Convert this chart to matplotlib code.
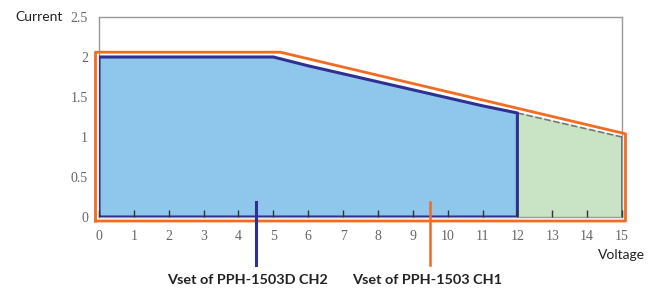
import matplotlib.pyplot as plt

# operating envelope
ch2_v = [0, 0, 5, 6, 7, 8, 9, 10, 11, 12, 12]
ch2_i = [0, 2.0, 2.0, 1.89, 1.79, 1.69, 1.59, 1.49, 1.39, 1.30, 0]
ext_v = [12, 12, 13, 14, 15, 15]
ext_i = [0, 1.30, 1.20, 1.10, 1.00, 0]
ch1_v = [-0.1, -0.1, 5.2, 15.1, 15.1, -0.1]
ch1_i = [-0.05, 2.06, 2.06, 1.04, -0.05, -0.05]
vset_ch2 = 4.5
vset_ch1 = 9.5
xticks = list(range(0, 16))
yticks = [0, 0.5, 1, 1.5, 2, 2.5]
ytick_labels = ['0', '0.5', '1', '1.5', '2', '2.5']

serif = 'Liberation Serif'
sans = 'Lato'

fig = plt.figure(figsize=(6.57, 2.88), dpi=100)
ax = fig.add_axes([99 / 657, 71 / 288, 523 / 657, 200 / 288])

ax.fill(ext_v, ext_i, color='#c9e3c5', zorder=1)
ax.plot(ext_v[1:-1], ext_i[1:-1], color='#777777', lw=1.2, ls=(0, (4, 1.5)), zorder=2)
ax.plot(ext_v[-2:], ext_i[-2:], color='#555555', lw=1.2, zorder=2)
ax.fill(ch2_v, ch2_i, color='#8fc7ec', zorder=2)
ax.plot(ch2_v + [0], ch2_i + [0], color='#2e3192', lw=2.2, zorder=3)
ax.plot(ch1_v, ch1_i, color='#f26b22', lw=2, zorder=4, clip_on=False)

ax.plot([vset_ch2, vset_ch2], [0.19, -0.6], color='#2e3192', lw=2.2, clip_on=False, zorder=5)
ax.plot([vset_ch1, vset_ch1], [0.19, -0.6], color='#f26b22', lw=1.8, clip_on=False, zorder=5)

ax.set_xlim(0, 15)
ax.set_ylim(0, 2.5)
ax.xaxis.set_zorder(3.5)
ax.set_xticks(xticks)
ax.set_xticklabels([str(v) for v in xticks], fontfamily=serif, fontsize=10, color='#666666')
ax.set_yticks(yticks)
ax.set_yticklabels(ytick_labels, fontfamily=serif, fontsize=10, color='#666666')
ax.tick_params(axis='x', direction='in', length=5, width=1, color='#333333', pad=9)
ax.tick_params(axis='y', direction='in', length=0, pad=8)
for s in ax.spines.values():
    s.set_color('#999999')
    s.set_linewidth(1)

fig.text(63 / 657, 1 - 17 / 288, 'Current', ha='right', va='center',
         fontfamily=sans, fontsize=10, color='#222222')
fig.text(645 / 657, 1 - 255 / 288, 'Voltage', ha='right', va='center',
         fontfamily=sans, fontsize=10, color='#222222')
fig.text(247 / 657, 1 - 280 / 288, 'Vset of PPH-1503D CH2', ha='center', va='center',
         fontfamily=sans, fontweight='bold', fontsize=10.4, color='#222222')
fig.text(427 / 657, 1 - 280 / 288, 'Vset of PPH-1503 CH1', ha='center', va='center',
         fontfamily=sans, fontweight='bold', fontsize=10.4, color='#222222')

fig.savefig('out.png', dpi=100)
